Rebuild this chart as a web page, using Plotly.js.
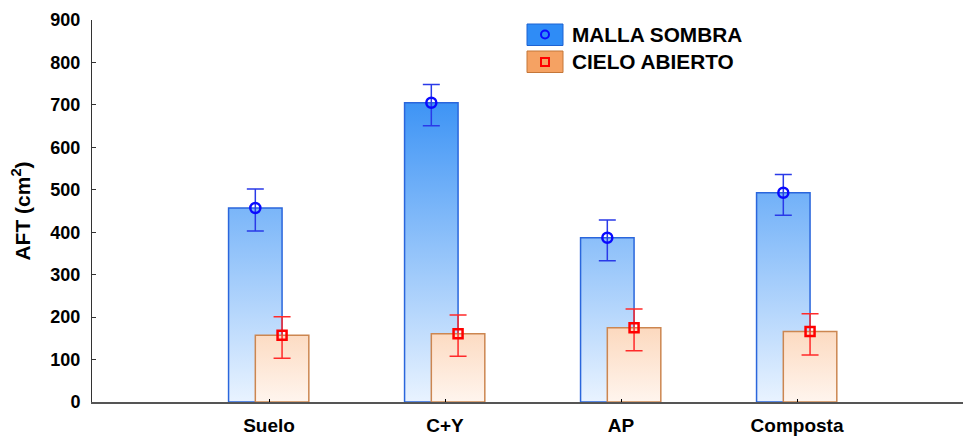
<!DOCTYPE html>
<html>
<head>
<meta charset="utf-8">
<script src="https://cdn.plot.ly/plotly-3.0.1.min.js"></script>
<style>html,body{margin:0;padding:0;background:#fff;}#chart{width:963px;height:437px;}</style>
</head>
<body>
<div id="chart"></div>
<script>
// ---- data ----
const categories = ["Suelo", "C+Y", "AP", "Composta"];
const seriesNames = ["MALLA SOMBRA", "CIELO ABIERTO"];
const mallaMean  = [457, 705, 387, 493];
const mallaUpper = [502, 748, 429, 536];
const mallaLower = [403, 651, 333, 440];
const cieloMean  = [157, 161, 175, 166];
const cieloUpper = [201, 205, 219, 208];
const cieloLower = [103, 108, 121, 111];
const yTicks = [0, 100, 200, 300, 400, 500, 600, 700, 800, 900];

// ---- layout helpers ----
const FONT = "Liberation Sans, Arial, sans-serif";
const barW = 0.304;
const offBlue = -0.078, offOrange = 0.074;

function barPolygon(values, off) {
  const xs = [], ys = [];
  values.forEach((v, i) => {
    const l = i + off - barW / 2, r = i + off + barW / 2;
    xs.push(l, r, r, l, l, null);
    ys.push(0, 0, v, v, 0, null);
  });
  return {x: xs, y: ys};
}
const pb = barPolygon(mallaMean, offBlue);
const po = barPolygon(cieloMean, offOrange);

const traces = [
  {type: "scatter", mode: "lines", x: pb.x, y: pb.y, fill: "toself",
   fillgradient: {type: "vertical", start: 0, stop: 720,
     colorscale: [[0, "#e9f3ff"], [1, "#3a92f5"]]},
   line: {color: "#2a66dc", width: 1.5}, hoverinfo: "skip", showlegend: false},
  {type: "scatter", mode: "lines", x: po.x, y: po.y, fill: "toself",
   fillgradient: {type: "vertical", start: 0, stop: 180,
     colorscale: [[0, "#fff5ee"], [1, "#fcd8bd"]]},
   line: {color: "#cc8650", width: 1.5}, hoverinfo: "skip", showlegend: false},
  {type: "scatter", mode: "markers", name: seriesNames[0],
   x: categories.map((c, i) => i + offBlue), y: mallaMean,
   error_y: {type: "data", symmetric: false,
     array: mallaUpper.map((u, i) => u - mallaMean[i]),
     arrayminus: mallaMean.map((m, i) => m - mallaLower[i]),
     color: "#2a3ae8", thickness: 1.5, width: 8.5},
   marker: {symbol: "circle-open", size: 10, color: "#0a0aff", line: {width: 2.5, color: "#0a0aff"}},
   showlegend: false},
  {type: "scatter", mode: "markers", name: seriesNames[1],
   x: categories.map((c, i) => i + offOrange), y: cieloMean,
   error_y: {type: "data", symmetric: false,
     array: cieloUpper.map((u, i) => u - cieloMean[i]),
     arrayminus: cieloMean.map((m, i) => m - cieloLower[i]),
     color: "#ff2a2a", thickness: 1.5, width: 8.5},
   marker: {symbol: "square-open", size: 9, color: "#ff0000", line: {width: 2.5, color: "#ff0000"}},
   showlegend: false}
];

// custom legend (paper coordinates)
const L = 92, R = 963, T = 20, B = 402;
const px = v => (v - L) / (R - L);
const py = v => (B - v) / (B - T);
const shapes = [
  {type: "rect", xref: "paper", yref: "paper", x0: px(527), x1: px(563), y0: py(45.5), y1: py(24),
   fillcolor: "#2f8cf6", line: {color: "#1d62d2", width: 1}},
  {type: "rect", xref: "paper", yref: "paper", x0: px(527), x1: px(563), y0: py(72.5), y1: py(51),
   fillcolor: "#f5a263", line: {color: "#c47638", width: 1}},
  {type: "circle", xref: "paper", yref: "paper", xsizemode: "pixel", ysizemode: "pixel",
   xanchor: px(545), yanchor: py(34.5), x0: -4, x1: 4, y0: -4, y1: 4,
   line: {color: "#0a0aff", width: 2}},
  {type: "rect", xref: "paper", yref: "paper", xsizemode: "pixel", ysizemode: "pixel",
   xanchor: px(545), yanchor: py(62), x0: -4, x1: 4, y0: -4, y1: 4,
   line: {color: "#ff0000", width: 2}}
];
const annotations = [
  {xref: "paper", yref: "paper", x: px(570), y: py(35), xanchor: "left", yanchor: "middle",
   text: seriesNames[0], showarrow: false, font: {family: FONT, size: 20.8, color: "#000", weight: "bold"}},
  {xref: "paper", yref: "paper", x: px(570), y: py(62), xanchor: "left", yanchor: "middle",
   text: seriesNames[1], showarrow: false, font: {family: FONT, size: 20.8, color: "#000", weight: "bold"}}
];

const layout = {
  width: 963, height: 437,
  margin: {l: L, r: 963 - R, t: T, b: 437 - B},
  paper_bgcolor: "#fff", plot_bgcolor: "#fff",
  showlegend: false,
  xaxis: {
    range: [-1.006, 3.943], tickmode: "array",
    tickvals: categories.map((c, i) => i), ticktext: categories,
    ticks: "inside", ticklen: 3, tickcolor: "#000", tickwidth: 1,
    showline: true, linecolor: "#555", linewidth: 2,
    showgrid: false, zeroline: false, ticklabelstandoff: 5,
    tickfont: {family: FONT, size: 19, color: "#000", weight: "bold"}
  },
  yaxis: {
    range: [0, 900], tickmode: "array", tickvals: yTicks,
    ticks: "inside", ticklen: 4, tickcolor: "#333", tickwidth: 1,
    showline: true, linecolor: "#333", linewidth: 1,
    showgrid: false, zeroline: false, ticklabelstandoff: 7,
    tickfont: {family: FONT, size: 18, color: "#000", weight: "bold"},
    title: {text: "AFT (cm<sup>2</sup>)", standoff: 14,
      font: {family: FONT, size: 21, color: "#000", weight: "bold"}}
  },
  shapes: shapes,
  annotations: annotations
};

Plotly.newPlot("chart", traces, layout, {displayModeBar: false, staticPlot: true});
</script>
</body>
</html>
